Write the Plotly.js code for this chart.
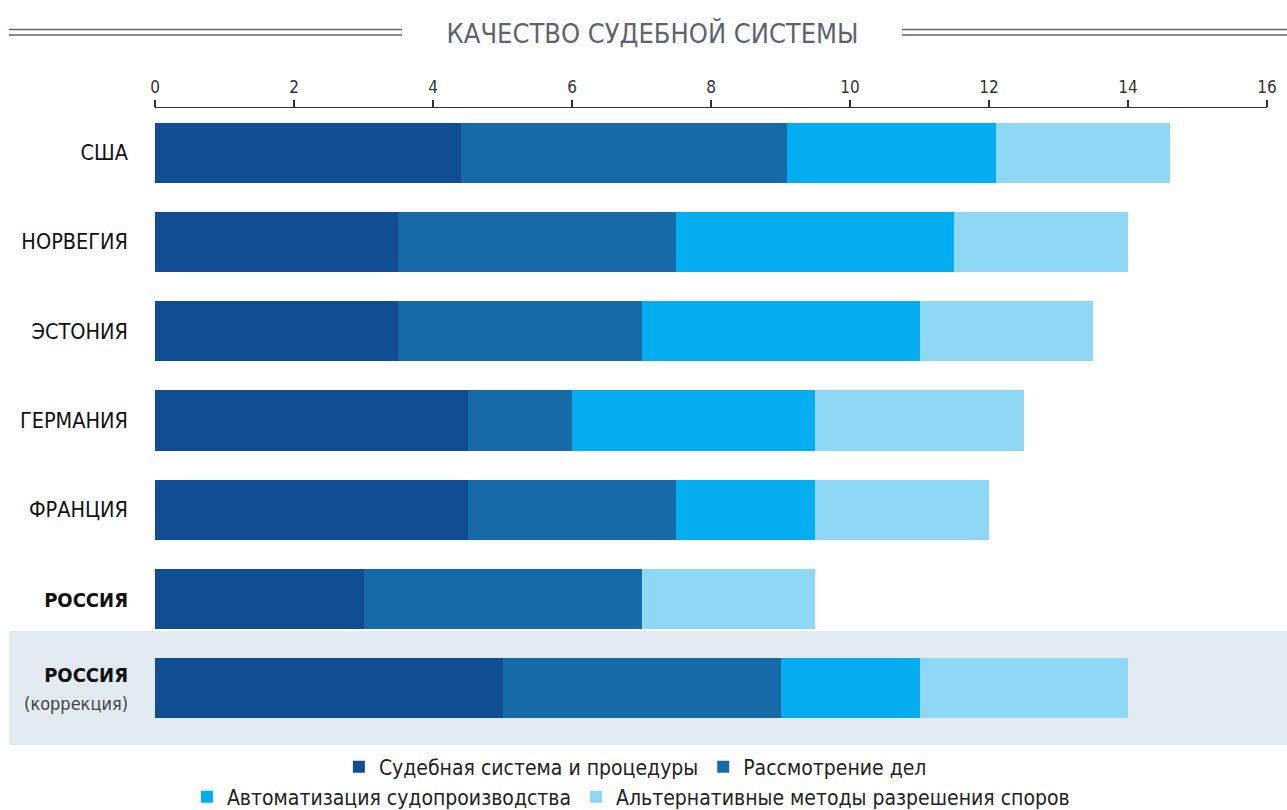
<!DOCTYPE html>
<html>
<head>
<meta charset="utf-8">
<script src="https://cdn.plot.ly/plotly-3.0.1.min.js"></script>
<style>html,body{margin:0;padding:0;background:#fff;}#chart{width:1287px;height:810px;}</style>
</head>
<body>
<div id="chart"></div>
<script>
var countries = ["США", "НОРВЕГИЯ", "ЭСТОНИЯ", "ГЕРМАНИЯ", "ФРАНЦИЯ", "РОССИЯ", "РОССИЯ (коррекция)"];
var countryLabels = ["США", "НОРВЕГИЯ", "ЭСТОНИЯ", "ГЕРМАНИЯ", "ФРАНЦИЯ",
  "<span style='font-size:20px'><b>РОССИЯ</b></span>",
  "<span style='font-size:20px'><b>РОССИЯ</b></span><br><span style='font-size:18px;color:#444'>(коррекция)</span>"];
var seriesNames = ["Судебная система и процедуры", "Рассмотрение дел", "Автоматизация судопроизводства", "Альтернативные методы разрешения споров"];
var judicialSystem = [4.4, 3.5, 3.5, 4.5, 4.5, 3.0, 5.0];
var caseReview     = [4.7, 4.0, 3.5, 1.5, 3.0, 4.0, 4.0];
var automation     = [3.0, 4.0, 4.0, 3.5, 2.0, 0.0, 2.0];
var alternative    = [2.5, 2.5, 2.5, 3.0, 2.5, 2.5, 3.0];
var xTicks = [0, 2, 4, 6, 8, 10, 12, 14, 16];
var titleText = "КАЧЕСТВО СУДЕБНОЙ СИСТЕМЫ";

var FONT = "'Liberation Sans Narrow', 'DejaVu Sans Condensed', 'Roboto', sans-serif";
var colors = ["#114d92", "#166aa7", "#03adef", "#8ed8f6"];
var allSeries = [judicialSystem, caseReview, automation, alternative];

var traces = allSeries.map(function (vals, i) {
  return {
    type: "bar",
    orientation: "h",
    name: seriesNames[i],
    x: vals,
    y: countries,
    marker: {color: colors[i], line: {width: 0}},
    legend: i < 2 ? "legend" : "legend2",
    hoverinfo: "x+name"
  };
});

var lineColor = "#5b6676";
function hline(x0, x1, y) {
  return {type: "line", xref: "paper", yref: "paper", x0: x0, x1: x1, y0: y, y1: y,
          line: {color: lineColor, width: 1.5}};
}

var layout = {
  width: 1287, height: 810,
  margin: {l: 155, r: 20, t: 108, b: 77, autoexpand: false},
  paper_bgcolor: "#ffffff", plot_bgcolor: "rgba(0,0,0,0)",
  barmode: "stack",
  bargap: 0.326,
  font: {family: FONT, color: "#222"},
  showlegend: true,
  title: {text: titleText, x: 0.507, xref: "container", xanchor: "center",
          y: 0.959, yref: "container", yanchor: "middle",
          font: {family: FONT, size: 27, color: "#5b6470"}},
  xaxis: {
    side: "top", range: [0, 16], tickvals: xTicks, ticktext: xTicks.map(String),
    showgrid: false, zeroline: false, showline: true, linecolor: "#333", linewidth: 1.5,
    ticks: "outside", ticklen: 7, tickcolor: "#333", tickwidth: 1.5,
    tickfont: {family: FONT, size: 17, color: "#333"}, fixedrange: true
  },
  yaxis: {
    type: "category", categoryorder: "array", categoryarray: countries,
    range: [6.5, -0.5], autorange: false, tickvals: countries, ticktext: countryLabels,
    showgrid: false, zeroline: false, showline: false, ticks: "",
    ticklabelstandoff: 26,
    tickfont: {family: FONT, size: 21.5, color: "#111"}, fixedrange: true
  },
  shapes: [
    {type: "rect", xref: "paper", yref: "paper", x0: -0.1313, x1: 1.02, y0: -0.0192, y1: 0.1632,
     fillcolor: "#e2ebf1", line: {width: 0}, layer: "below"},
    hline(-0.1313, 0.2221, 1.1256), hline(-0.1313, 0.2221, 1.1168),
    hline(0.6718, 1.02, 1.1256), hline(0.6718, 1.02, 1.1168)
  ],
  legend: {orientation: "h", x: 0.432, xanchor: "center", y: -0.0544, yanchor: "middle",
           font: {family: FONT, size: 21, color: "#222"}, bgcolor: "rgba(0,0,0,0)",
           traceorder: "normal", itemclick: false},
  legend2: {orientation: "h", x: 0.428, xanchor: "center", y: -0.1024, yanchor: "middle",
            font: {family: FONT, size: 21, color: "#222"}, bgcolor: "rgba(0,0,0,0)",
            traceorder: "normal", itemclick: false}
};

Plotly.newPlot("chart", traces, layout, {displayModeBar: false, staticPlot: true});
</script>
</body>
</html>
